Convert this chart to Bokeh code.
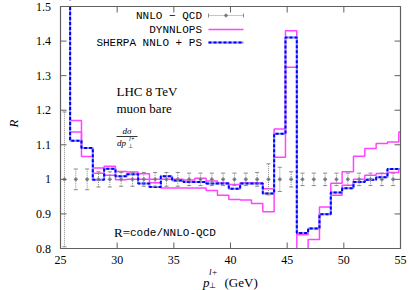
from bokeh.plotting import figure
from bokeh.models import Range1d, Label
from bokeh.embed import file_html
from bokeh.resources import INLINE

# ---------------- data ----------------
bin_lo = [24.85, 25.85, 26.85, 27.85, 28.85, 29.85, 30.85, 31.85, 32.85, 33.85,
          34.85, 35.85, 36.85, 37.85, 38.85, 39.85, 40.85, 41.85, 42.85, 43.85,
          44.85, 45.85, 46.85, 47.85, 48.85, 49.85, 50.85, 51.85, 52.85, 53.85,
          54.85]
bin_width = 1.0

sherpa = [1.9, 1.112, 1.091, 0.999, 1.031, 1.009, 1.015, 0.988, 0.978, 1.009,
          0.997, 0.992, 0.992, 0.988, 0.988, 0.973, 0.988, 0.988, 0.959, 1.132,
          1.41, 0.845, 0.858, 0.899, 0.962, 0.974, 0.992, 0.999, 1.006, 1.03,
          1.03]
dyn_a = [1.9, 1.170, 1.090, 1.033, 1.038, 1.023, 1.021, 1.016, 1.000, 1.000,
         1.000, 0.998, 1.003, 0.995, 0.990, 0.985, 0.990, 0.990, 0.973, 1.146,
         1.430, 0.840, 0.858, 0.900, 0.954, 0.983, 1.000, 1.012, 1.017, 1.020,
         1.030]
dyn_b = [1.9, 1.137, 1.066, 1.018, 1.012, 0.999, 1.000, 1.000, 0.990, 0.975,
         0.975, 0.975, 0.975, 0.968, 0.954, 0.942, 0.940, 0.930, 0.906, 1.064,
         1.324, 0.780, 0.826, 0.920, 0.989, 1.022, 1.067, 1.089, 1.104, 1.108,
         1.137]
nnlo = [1.0, 1.0, 1.0, 1.0, 1.0, 1.0, 1.0, 1.0, 1.0, 1.0,
        1.0, 1.0, 1.0, 1.0, 1.0, 1.0, 1.0, 1.0, 1.0, 1.0,
        1.0, 1.0, 1.0, 1.0, 1.0, 1.0, 1.0, 1.0, 1.0, 1.0,
        1.0]
nnlo_err = [0.195, 0.030, 0.030, 0.022, 0.022, 0.020, 0.020, 0.020, 0.020, 0.020,
            0.020, 0.018, 0.018, 0.018, 0.018, 0.018, 0.018, 0.020, 0.045, 0.035,
            0.022, 0.018, 0.018, 0.018, 0.018, 0.018, 0.018, 0.018, 0.018, 0.018,
            0.018]

xticks = [25, 30, 35, 40, 45, 50, 55]
xtick_labels = ["25", "30", "35", "40", "45", "50", "55"]
yticks = [0.8, 0.9, 1.0, 1.1, 1.2, 1.3, 1.4, 1.5]
ytick_labels = ["0.8", "0.9", "1", "1.1", "1.2", "1.3", "1.4", "1.5"]

legend_labels = ["NNLO \u2212 QCD", "DYNNLOPS", "SHERPA NNLO + PS"]

# ---------------- style ----------------
SERIF = "Liberation Serif"
MONO = "Liberation Mono"
MAGENTA = "#ff44ff"
BLUE = "#0000ff"
BLUE_LIGHT = "#8c8cff"
GRAY = "#8a8a8a"
FRAME = "#606060"

XMIN, XMAX, YMIN, YMAX = 25, 55, 0.8, 1.5
W, H = 409, 290
FL, FR, FT, FB = 60, 400, 6, 248        # plot box in canvas pixels


def X(px):
    return XMIN + (px - FL) * (XMAX - XMIN) / (FR - FL)


def Y(py):
    return YMIN + (FB - py) * (YMAX - YMIN) / (FB - FT)


DX = (XMAX - XMIN) / (FR - FL)   # data per px
DY = (YMAX - YMIN) / (FB - FT)

# the frame covers the whole canvas; axes are drawn by hand so that
# axis titles with sub/superscripts can be placed as real text
p = figure(width=W, height=H, x_range=Range1d(X(0), X(W)), y_range=Range1d(Y(H), Y(0)),
           output_backend="svg", toolbar_location=None,
           x_axis_location=None, y_axis_location=None,
           min_border_left=0, min_border_right=0, min_border_top=0, min_border_bottom=0)
p.grid.visible = False
p.outline_line_color = None
p.background_fill_color = "white"
p.border_fill_color = "white"

# ---------------- histograms ----------------
edges = bin_lo + [bin_lo[-1] + bin_width]
centers = [b + bin_width / 2 for b in bin_lo]

p.step(edges, dyn_a + [dyn_a[-1]], mode="after", line_color=MAGENTA, line_width=1.5)
p.step(edges, dyn_b + [dyn_b[-1]], mode="after", line_color=MAGENTA, line_width=1.5)
p.step(edges, sherpa + [sherpa[-1]], mode="after", line_color=BLUE_LIGHT, line_width=2)
p.step(edges, sherpa + [sherpa[-1]], mode="after", line_color=BLUE, line_width=2, line_dash="3 2")

# NNLO error bars
lo = [c - e for c, e in zip(nnlo, nnlo_err)]
hi = [c + e for c, e in zip(nnlo, nnlo_err)]
cap = 0.18
p.segment(x0=centers, x1=centers, y0=lo, y1=hi, line_color=GRAY, line_width=1, line_dash="1 1")
p.segment(x0=[c - cap for c in centers], x1=[c + cap for c in centers], y0=hi, y1=hi,
          line_color=GRAY, line_width=1)
p.segment(x0=[c - cap for c in centers], x1=[c + cap for c in centers], y0=lo, y1=lo,
          line_color=GRAY, line_width=1)
p.scatter(centers, nnlo, marker="plus", size=3, line_color=GRAY)

# ---------------- mask outside the plot box (clipping) ----------------
x_lo, x_hi = X(0), X(W)
y_lo, y_hi = Y(H), Y(0)
p.quad(left=[x_lo, XMAX, x_lo, x_lo], right=[XMIN, x_hi, x_hi, x_hi],
       bottom=[y_lo, y_lo, y_lo, YMAX], top=[y_hi, y_hi, YMIN, y_hi],
       fill_color="white", line_color=None)

# ---------------- frame & ticks ----------------
p.quad(left=[XMIN], right=[XMAX], bottom=[YMIN], top=[YMAX], fill_color=None,
       line_color=FRAME, line_width=1.2)
tick_len = 6
nx, ny = len(xticks), len(yticks)
p.segment(x0=xticks, x1=xticks, y0=[YMIN] * nx, y1=[YMIN + tick_len * DY] * nx,
          line_color=FRAME, line_width=1)
p.segment(x0=xticks, x1=xticks, y0=[YMAX] * nx, y1=[YMAX - tick_len * DY] * nx,
          line_color=FRAME, line_width=1)
p.segment(x0=[XMIN] * ny, x1=[XMIN + tick_len * DX] * ny, y0=yticks, y1=yticks,
          line_color=FRAME, line_width=1)
p.segment(x0=[XMAX] * ny, x1=[XMAX - tick_len * DX] * ny, y0=yticks, y1=yticks,
          line_color=FRAME, line_width=1)


def lab(x, y, text, font=SERIF, size="13px", style="normal", align="left", baseline="middle", angle=0):
    p.add_layout(Label(x=x, y=y, text=text, text_font=font, text_font_size=size,
                       text_font_style=style, text_align=align, text_baseline=baseline,
                       angle=angle, text_color="black"))


for t, s in zip(xticks, xtick_labels):
    lab(t, Y(259.5), s, size="12px", align="center")
for t, s in zip(yticks, ytick_labels):
    lab(X(50.5), t, s, size="12px", align="right")

# ---------------- legend (gnuplot style) ----------------
leg_right = X(201.5)
leg_x0, leg_x1 = X(208), X(243)
leg_y = [Y(15), Y(29), Y(42)]
for lab_text, yy in zip(legend_labels, leg_y):
    lab(leg_right, yy, lab_text, font=MONO, size="11px", align="right")
# NNLO-QCD sample
p.segment(x0=[leg_x0], x1=[leg_x1], y0=[leg_y[0]], y1=[leg_y[0]], line_color=GRAY,
          line_width=1, line_dash="1 1")
p.segment(x0=[leg_x0, leg_x1], x1=[leg_x0, leg_x1], y0=[leg_y[0] - 2 * DY] * 2,
          y1=[leg_y[0] + 2 * DY] * 2, line_color=GRAY, line_width=1)
p.scatter([(leg_x0 + leg_x1) / 2], [leg_y[0]], marker="plus", size=3, line_color=GRAY)
# DYNNLOPS sample
p.line([leg_x0, leg_x1], [leg_y[1]] * 2, line_color=MAGENTA, line_width=1.5)
# SHERPA sample
p.line([leg_x0, leg_x1], [leg_y[2]] * 2, line_color=BLUE_LIGHT, line_width=2)
p.line([leg_x0, leg_x1], [leg_y[2]] * 2, line_color=BLUE, line_width=2, line_dash="3 2")

# ---------------- texts ----------------
lab(X(116), Y(91), "LHC 8 TeV")
lab(X(116), Y(108), "muon bare")
# fraction d sigma / d p_perp^{l+}
lab(X(126.5), Y(130), "d\u03c3", size="9px", style="italic", align="center")
p.segment(x0=[X(116)], x1=[X(137)], y0=[Y(136)], y1=[Y(136)], line_color="black", line_width=0.8)
lab(X(116.5), Y(142.5), "dp", size="9px", style="italic")
lab(X(127.5), Y(145), "\u22a5", size="6px")
lab(X(128.5), Y(138.5), "l+", size="6px", style="italic")

lab(X(129.5), Y(232), "R=", size="13px", align="right")
lab(X(129.5), Y(232), "code/NNLO-QCD", font=MONO, size="11px")

# axis titles
lab(X(13), Y(123), "R", size="13px", style="italic", align="center", angle=1.5708)
lab(X(202.5), Y(281.5), "p", size="13px", style="italic", baseline="alphabetic")
lab(X(208.5), Y(284.5), "\u22a5", size="8px", baseline="alphabetic")
lab(X(208.5), Y(271.5), "l+", size="9px", style="italic", baseline="alphabetic")
lab(X(224), Y(282), "(GeV)", size="13px", baseline="alphabetic")

open("out.html", "w").write(file_html(p, INLINE))
